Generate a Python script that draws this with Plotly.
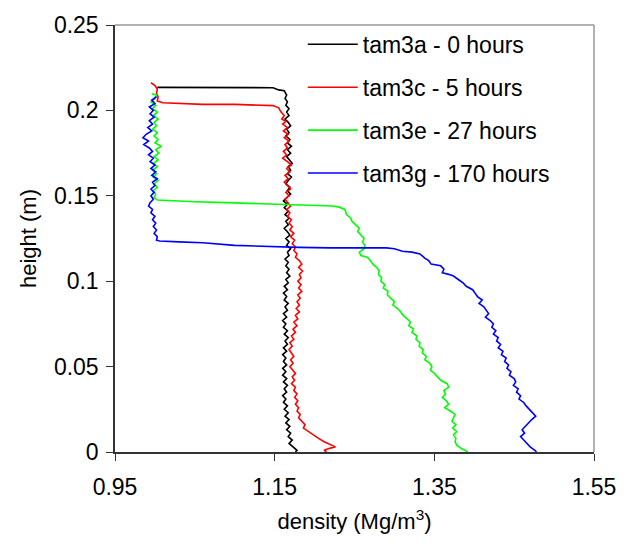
import plotly.graph_objects as go

names = ["tam3a - 0 hours", "tam3c - 5 hours", "tam3e - 27 hours", "tam3g - 170 hours"]
colors = ["#000000", "#FF0000", "#00FF00", "#0000FF"]

black_x = [1.003, 1.05, 1.10, 1.148, 1.155, 1.162, 1.165, 1.163, 1.166, 1.164, 1.168, 1.165, 1.168, 1.163, 1.167, 1.170,
           1.165, 1.168, 1.164, 1.169, 1.166, 1.171, 1.166, 1.170, 1.165, 1.168, 1.172, 1.167, 1.170, 1.166, 1.171,
           1.167, 1.164, 1.169, 1.166, 1.170, 1.165, 1.161, 1.166, 1.162, 1.167, 1.163, 1.168, 1.164, 1.167, 1.162,
           1.166, 1.169, 1.164, 1.168, 1.165, 1.170, 1.166, 1.168, 1.163, 1.167, 1.164, 1.168, 1.165, 1.169, 1.164,
           1.167, 1.162, 1.166, 1.161, 1.165, 1.162, 1.167, 1.163, 1.166, 1.161, 1.165, 1.160, 1.164, 1.161, 1.166,
           1.162, 1.167, 1.163, 1.166, 1.161, 1.165, 1.160, 1.164, 1.161, 1.165, 1.160, 1.164, 1.160, 1.165, 1.161,
           1.166, 1.162, 1.165, 1.160, 1.164, 1.161, 1.166, 1.162, 1.167, 1.163, 1.168, 1.164, 1.169, 1.165, 1.170,
           1.167, 1.172, 1.168, 1.173, 1.178, 1.176]
black_y = [0.2135, 0.2135, 0.2135, 0.2133, 0.212, 0.2115, 0.209, 0.207, 0.205, 0.203, 0.201, 0.199, 0.197, 0.195, 0.193,
           0.191, 0.189, 0.187, 0.185, 0.183, 0.181, 0.179, 0.177, 0.175, 0.173, 0.171, 0.169, 0.167, 0.165, 0.163,
           0.161, 0.159, 0.157, 0.155, 0.153, 0.151, 0.149, 0.147, 0.145, 0.143, 0.141, 0.139, 0.137, 0.135, 0.133,
           0.131, 0.129, 0.127, 0.125, 0.123, 0.121, 0.119, 0.117, 0.115, 0.113, 0.111, 0.109, 0.107, 0.105, 0.103,
           0.101, 0.099, 0.097, 0.095, 0.093, 0.091, 0.089, 0.087, 0.085, 0.083, 0.081, 0.079, 0.077, 0.075, 0.073,
           0.071, 0.069, 0.067, 0.065, 0.063, 0.061, 0.059, 0.057, 0.055, 0.053, 0.051, 0.049, 0.047, 0.045, 0.043,
           0.041, 0.039, 0.037, 0.035, 0.033, 0.031, 0.029, 0.027, 0.025, 0.023, 0.021, 0.019, 0.017, 0.015, 0.013,
           0.011, 0.009, 0.007, 0.005, 0.003, 0.001, 0.0]

red_x = [0.995, 1.000, 1.003, 1.002, 1.004, 1.003, 1.010, 1.030, 1.060, 1.100, 1.130, 1.148, 1.155, 1.158, 1.162,
         1.159, 1.164, 1.160, 1.166, 1.161, 1.167, 1.162, 1.168, 1.163, 1.166, 1.161, 1.165, 1.160, 1.166, 1.171,
         1.165, 1.169, 1.163, 1.167, 1.162, 1.166, 1.170, 1.164, 1.168, 1.163, 1.166, 1.170, 1.165, 1.169, 1.166,
         1.171, 1.168, 1.172, 1.169, 1.174, 1.170, 1.175, 1.172, 1.176, 1.174, 1.178, 1.176, 1.181, 1.184, 1.180,
         1.185, 1.181, 1.183, 1.179, 1.183, 1.180, 1.184, 1.179, 1.182, 1.178, 1.181, 1.177, 1.181, 1.176, 1.179,
         1.174, 1.178, 1.173, 1.176, 1.171, 1.174, 1.169, 1.172, 1.168, 1.171, 1.174, 1.170, 1.173, 1.169, 1.172,
         1.176, 1.172, 1.175, 1.171, 1.176, 1.174, 1.178, 1.175, 1.179, 1.176, 1.180, 1.178, 1.182, 1.180, 1.184,
         1.188, 1.186, 1.192, 1.198, 1.205, 1.212, 1.222, 1.226, 1.218, 1.212, 1.215]
red_y = [0.2163, 0.2145, 0.2125, 0.210, 0.208, 0.2055, 0.2045, 0.204, 0.2035, 0.2035, 0.2033, 0.2028, 0.2015, 0.199,
         0.197, 0.195, 0.1935, 0.192, 0.190, 0.188, 0.186, 0.184, 0.182, 0.180, 0.178, 0.176, 0.174, 0.172, 0.170,
         0.168, 0.166, 0.164, 0.162, 0.160, 0.158, 0.156, 0.154, 0.152, 0.150, 0.148, 0.146, 0.144, 0.142, 0.140,
         0.138, 0.136, 0.134, 0.132, 0.130, 0.128, 0.126, 0.124, 0.122, 0.120, 0.118, 0.116, 0.114, 0.112, 0.110,
         0.108, 0.106, 0.104, 0.102, 0.100, 0.098, 0.096, 0.094, 0.092, 0.090, 0.088, 0.086, 0.084, 0.082, 0.080,
         0.078, 0.076, 0.074, 0.072, 0.070, 0.068, 0.066, 0.064, 0.062, 0.060, 0.058, 0.056, 0.054, 0.052, 0.050,
         0.048, 0.046, 0.044, 0.042, 0.040, 0.038, 0.036, 0.034, 0.032, 0.030, 0.028, 0.026, 0.024, 0.022, 0.020,
         0.018, 0.016, 0.014, 0.012, 0.010, 0.008, 0.006, 0.004, 0.003, 0.002, 0.001, 0.0]

green_x = [0.996, 1.002, 1.000, 0.995, 1.001, 0.997, 1.003, 0.998, 1.004, 0.999, 1.002, 0.997, 1.003, 0.999, 1.004,
           1.000, 1.008, 1.001, 1.005, 0.999, 1.004, 0.998, 1.003, 0.997, 1.002, 0.998, 1.004, 0.999, 1.003, 0.998,
           1.001, 0.999, 1.003, 1.02, 1.05, 1.09, 1.13, 1.17, 1.20, 1.222, 1.230, 1.238, 1.240, 1.245, 1.247, 1.252,
           1.256, 1.254, 1.258, 1.262, 1.260, 1.263, 1.262, 1.256, 1.258, 1.266, 1.270, 1.273, 1.278, 1.281, 1.280,
           1.284, 1.283, 1.288, 1.286, 1.292, 1.291, 1.296, 1.300, 1.298, 1.304, 1.308, 1.311, 1.316, 1.320, 1.318,
           1.324, 1.322, 1.328, 1.327, 1.332, 1.331, 1.336, 1.335, 1.340, 1.338, 1.344, 1.347, 1.345, 1.350, 1.354,
           1.358, 1.366, 1.368, 1.362, 1.364, 1.360, 1.365, 1.368, 1.363, 1.370, 1.376, 1.374, 1.372, 1.377, 1.373,
           1.378, 1.374, 1.377, 1.376, 1.378, 1.384, 1.392]
green_y = [0.2098, 0.209, 0.207, 0.205, 0.203, 0.201, 0.199, 0.197, 0.195, 0.193, 0.191, 0.189, 0.187, 0.185, 0.183,
           0.181, 0.179, 0.177, 0.175, 0.173, 0.171, 0.169, 0.167, 0.165, 0.163, 0.161, 0.159, 0.157, 0.155, 0.153,
           0.151, 0.149, 0.1475, 0.147, 0.1465, 0.146, 0.1455, 0.1448, 0.1442, 0.144, 0.1435, 0.142, 0.139, 0.137,
           0.135, 0.133, 0.131, 0.129, 0.127, 0.125, 0.123, 0.121, 0.119, 0.117, 0.115, 0.114, 0.112, 0.110, 0.108,
           0.106, 0.104, 0.102, 0.100, 0.098, 0.096, 0.094, 0.092, 0.090, 0.088, 0.086, 0.084, 0.082, 0.080, 0.078,
           0.076, 0.074, 0.072, 0.070, 0.068, 0.066, 0.064, 0.062, 0.060, 0.058, 0.056, 0.054, 0.052, 0.050, 0.048,
           0.046, 0.044, 0.042, 0.040, 0.038, 0.036, 0.034, 0.032, 0.030, 0.028, 0.026, 0.024, 0.022, 0.020, 0.018,
           0.016, 0.014, 0.012, 0.010, 0.008, 0.006, 0.004, 0.002, 0.0]

blue_x = [1.002, 0.996, 1.000, 0.993, 0.998, 0.994, 0.999, 0.993, 0.997, 0.991, 0.996, 0.989, 0.985, 0.992, 0.986,
          0.993, 0.997, 0.992, 0.998, 0.994, 1.000, 0.995, 1.001, 0.996, 1.003, 0.997, 1.000, 0.995, 0.999, 0.995,
          0.998, 0.994, 0.992, 0.997, 0.995, 1.000, 0.997, 1.001, 0.998, 1.002, 0.999, 1.003, 1.002, 1.006, 1.03,
          1.06, 1.10, 1.14, 1.18, 1.22, 1.26, 1.29, 1.30, 1.31, 1.322, 1.332, 1.338, 1.343, 1.346, 1.352, 1.358,
          1.362, 1.360, 1.368, 1.374, 1.380, 1.386, 1.390, 1.398, 1.401, 1.404, 1.410, 1.406, 1.412, 1.415, 1.418,
          1.414, 1.420, 1.424, 1.422, 1.427, 1.424, 1.430, 1.428, 1.433, 1.430, 1.436, 1.434, 1.440, 1.438, 1.443,
          1.441, 1.446, 1.444, 1.450, 1.452, 1.449, 1.455, 1.453, 1.458, 1.456, 1.462, 1.465, 1.469, 1.474, 1.477,
          1.472, 1.468, 1.463, 1.460, 1.463, 1.458, 1.462, 1.466, 1.470, 1.476, 1.478]
blue_y = [0.208, 0.206, 0.204, 0.202, 0.200, 0.198, 0.196, 0.194, 0.192, 0.190, 0.188, 0.186, 0.184, 0.182, 0.180,
          0.178, 0.176, 0.174, 0.172, 0.170, 0.168, 0.166, 0.164, 0.162, 0.160, 0.158, 0.156, 0.154, 0.152, 0.150,
          0.148, 0.146, 0.144, 0.142, 0.140, 0.138, 0.136, 0.134, 0.132, 0.130, 0.128, 0.126, 0.124, 0.1235, 0.123,
          0.1225, 0.121, 0.1202, 0.1198, 0.1195, 0.1196, 0.1195, 0.119, 0.1175, 0.117, 0.116, 0.1135, 0.112, 0.110,
          0.1095, 0.109, 0.107, 0.105, 0.104, 0.103, 0.101, 0.099, 0.097, 0.095, 0.093, 0.091, 0.089, 0.087, 0.085,
          0.083, 0.081, 0.079, 0.077, 0.075, 0.073, 0.071, 0.069, 0.067, 0.065, 0.063, 0.061, 0.059, 0.057, 0.055,
          0.053, 0.051, 0.049, 0.047, 0.045, 0.043, 0.041, 0.039, 0.037, 0.035, 0.033, 0.031, 0.029, 0.027, 0.025,
          0.023, 0.021, 0.019, 0.017, 0.015, 0.013, 0.011, 0.009, 0.007, 0.005, 0.003, 0.001, 0.0]

x_ticks = [0.95, 1.15, 1.35, 1.55]
x_tick_labels = ["0.95", "1.15", "1.35", "1.55"]
y_ticks = [0, 0.05, 0.1, 0.15, 0.2, 0.25]
y_tick_labels = ["0", "0.05", "0.1", "0.15", "0.2", "0.25"]

series = [(black_x, black_y), (red_x, red_y), (green_x, green_y), (blue_x, blue_y)]

fig = go.Figure()
for i, ((xs, ys), name, col) in enumerate(zip(series, names, colors)):
    fig.add_trace(go.Scatter(x=xs, y=ys, mode="lines", name=name, legendgroup=str(i),
                             line=dict(color=col, width=1.6)))

font_family = "Liberation Sans, Arial, sans-serif"
fig.update_layout(
    width=628, height=551,
    margin=dict(l=115, r=31, t=17, b=99),
    paper_bgcolor="white", plot_bgcolor="white",
    font=dict(family=font_family, color="black", size=23),
    showlegend=True,
    legend=dict(x=0.392, y=1.005, xanchor="left", yanchor="top", bgcolor="rgba(0,0,0,0)",
                font=dict(size=23, family=font_family), tracegroupgap=10, itemwidth=50),
    xaxis=dict(range=[0.95, 1.55], tickvals=x_ticks, ticktext=x_tick_labels,
               showgrid=False, zeroline=False, showline=True, linecolor="#333333", linewidth=1.5,
               ticks="outside", ticklen=7, tickcolor="#333333", tickfont=dict(size=23),
               ticklabelstandoff=7,
               title=dict(text="density (Mg/m<sup>3</sup>)", font=dict(size=22), standoff=14)),
    yaxis=dict(range=[0, 0.25], tickvals=y_ticks, ticktext=y_tick_labels,
               showgrid=False, zeroline=False, showline=True, linecolor="#333333", linewidth=1.5,
               ticks="outside", ticklen=7, tickcolor="#333333", tickfont=dict(size=23),
               ticklabelstandoff=3,
               title=dict(text="height (m)", font=dict(size=22), standoff=11)),
    shapes=[
        dict(type="line", xref="paper", yref="paper", x0=0, x1=1, y0=1, y1=1,
             line=dict(color="#999999", width=1.5)),
        dict(type="line", xref="paper", yref="paper", x0=1, x1=1, y0=0, y1=1,
             line=dict(color="#999999", width=1.5)),
    ],
)

fig.write_html("out.html")
